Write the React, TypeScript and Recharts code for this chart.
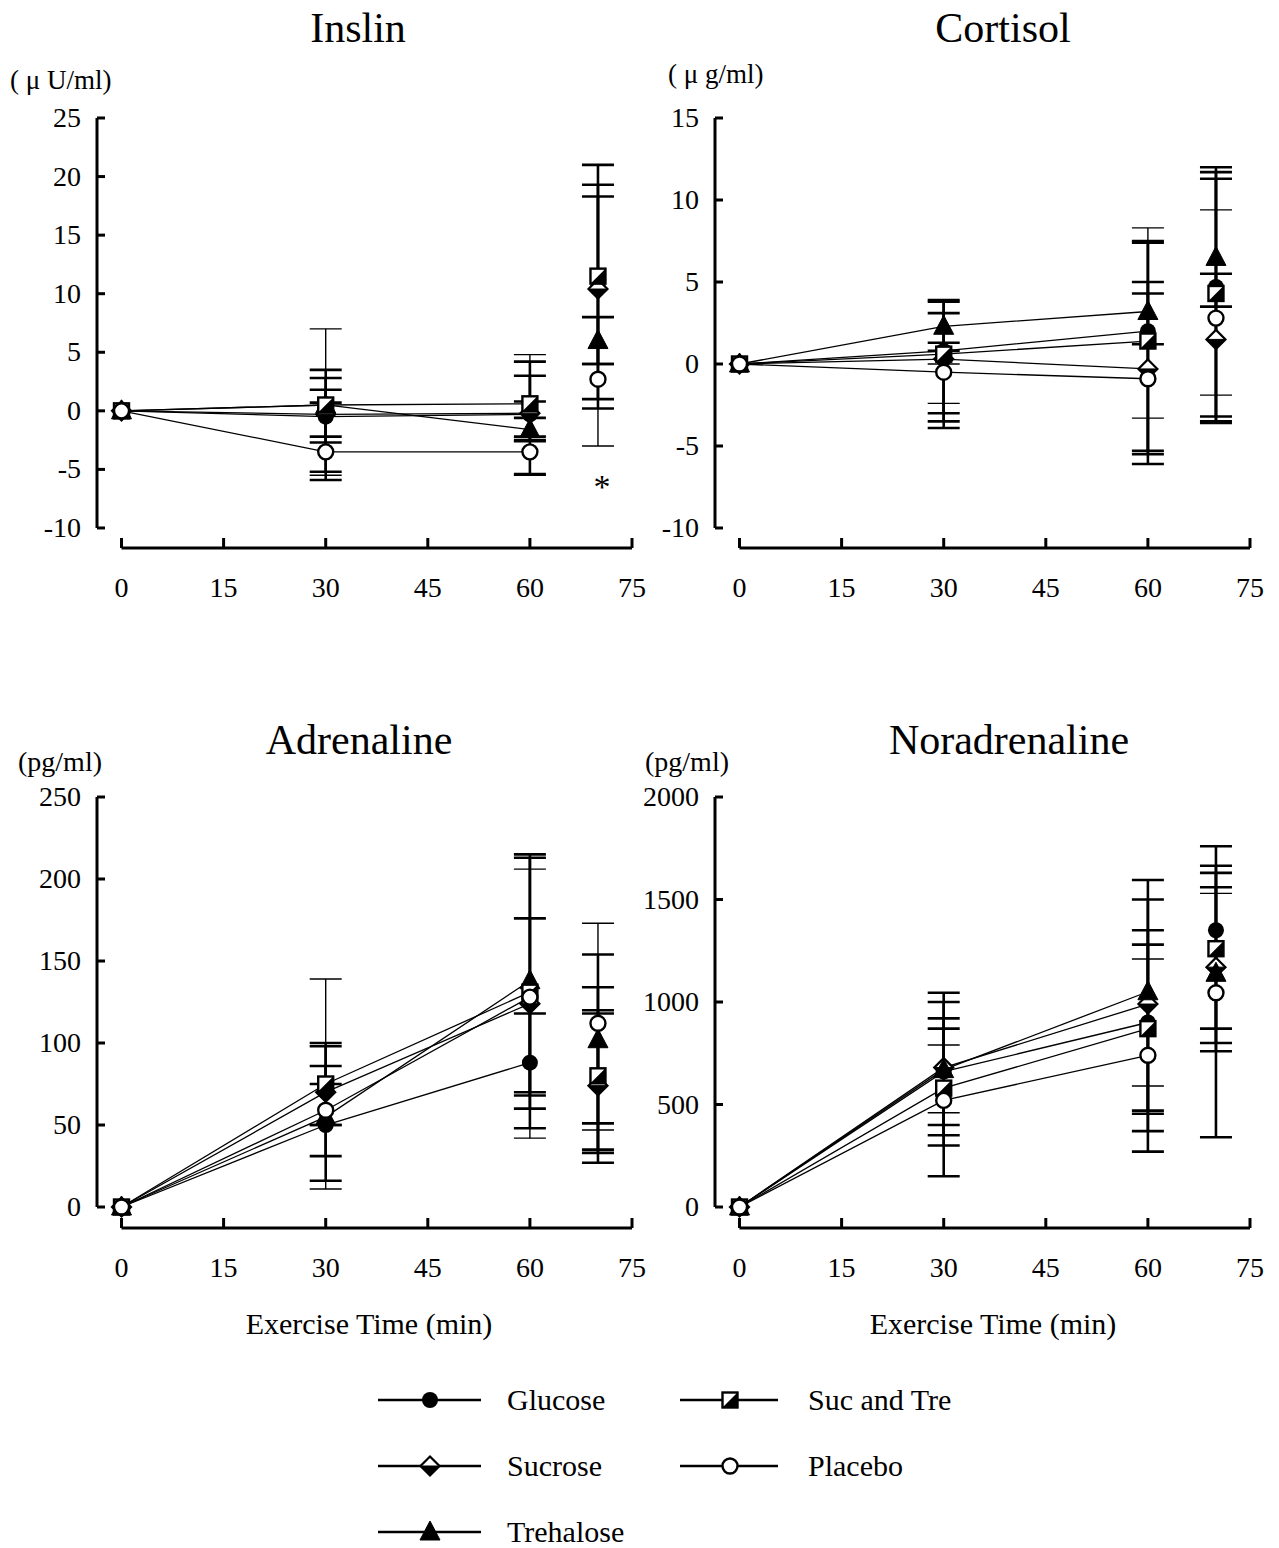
import React from 'react';
import { ComposedChart, Scatter, XAxis, YAxis, ErrorBar, ReferenceLine, ReferenceDot } from 'recharts';

const FONT = "'Liberation Serif', 'Times New Roman', serif";

const times = [0, 30, 60, 70];
const seriesNames = ['Glucose', 'Sucrose', 'Trehalose', 'Suc and Tre', 'Placebo'];
const xTicks = [0, 15, 30, 45, 60, 75];

// ---------- Insulin ----------
const insulinTicks = [-10, -5, 0, 5, 10, 15, 20, 25];
const insulinMean: Record<string, number[]> = {
  Glucose: [0, -0.5, -0.3, 10.5],
  Sucrose: [0, -0.3, -0.2, 10.4],
  Trehalose: [0, 0.5, -1.6, 6.0],
  'Suc and Tre': [0, 0.5, 0.6, 11.5],
  Placebo: [0, -3.5, -3.5, 2.7],
};
// [minus, plus]
const insulinErr: Record<string, number[][]> = {
  Glucose: [[0, 0], [4.7, 2.3], [5.1, 3.3], [10.3, 8.8]],
  Sucrose: [[0, 0], [5.6, 1.0], [2.0, 1.0], [6.4, 7.9]],
  Trehalose: [[0, 0], [3.2, 2.3], [1.0, 1.0], [2.0, 2.0]],
  'Suc and Tre': [[0, 0], [2.7, 3.0], [3.1, 3.6], [10.5, 9.5]],
  Placebo: [[0, 0], [2.0, 10.5], [2.0, 8.3], [5.7, 5.3]],
};

// ---------- Cortisol ----------
const cortisolTicks = [-10, -5, 0, 5, 10, 15];
const cortisolMean: Record<string, number[]> = {
  Glucose: [0, 0.8, 2.0, 4.7],
  Sucrose: [0, 0.3, -0.3, 1.5],
  Trehalose: [0, 2.3, 3.2, 6.5],
  'Suc and Tre': [0, 0.6, 1.4, 4.3],
  Placebo: [0, -0.5, -0.9, 2.8],
};
const cortisolErr: Record<string, number[][]> = {
  Glucose: [[0, 0], [4.3, 3.0], [7.3, 5.5], [8.3, 7.0]],
  Sucrose: [[0, 0], [4.2, 0.5], [5.8, 4.6], [4.7, 4.0]],
  Trehalose: [[0, 0], [1.0, 1.6], [2.0, 4.2], [3.0, 5.5]],
  'Suc and Tre': [[0, 0], [3.6, 2.5], [6.9, 3.6], [7.8, 7.0]],
  Placebo: [[0, 0], [1.9, 0.5], [2.4, 9.2], [4.7, 6.6]],
};

// ---------- Adrenaline ----------
const adrenalineTicks = [0, 50, 100, 150, 200, 250];
const adrenalineMean: Record<string, number[]> = {
  Glucose: [0, 50, 88, 77],
  Sucrose: [0, 70, 124, 74],
  Trehalose: [0, 55, 138, 102],
  'Suc and Tre': [0, 75, 131, 80],
  Placebo: [0, 59, 128, 112],
};
const adrenalineErr: Record<string, number[][]> = {
  Glucose: [[0, 0], [19, 36], [20, 30], [44, 41]],
  Sucrose: [[0, 0], [20, 28], [76, 52], [23, 46]],
  Trehalose: [[0, 0], [39, 20], [68, 77], [75, 52]],
  'Suc and Tre': [[0, 0], [25, 25], [71, 82], [45, 54]],
  Placebo: [[0, 0], [48, 80], [86, 78], [65, 61]],
};

// ---------- Noradrenaline ----------
const noradTicks = [0, 500, 1000, 1500, 2000];
const noradMean: Record<string, number[]> = {
  Glucose: [0, 660, 900, 1350],
  Sucrose: [0, 680, 990, 1170],
  Trehalose: [0, 670, 1050, 1140],
  'Suc and Tre': [0, 580, 870, 1260],
  Placebo: [0, 520, 740, 1045],
};
const noradErr: Record<string, number[][]> = {
  Glucose: [[0, 0], [260, 260], [430, 600], [1010, 410]],
  Sucrose: [[0, 0], [380, 320], [620, 360], [410, 460]],
  Trehalose: [[0, 0], [520, 375], [780, 545], [270, 420]],
  'Suc and Tre': [[0, 0], [230, 290], [415, 410], [460, 405]],
  Placebo: [[0, 0], [60, 270], [150, 470], [245, 485]],
};

const X_MIN = -3.6;
const AXIS_X = 97;

// ---------- marker shapes ----------
const GlucoseMark = ({ cx, cy }: any) => <circle cx={cx} cy={cy} r={8} fill="#000" />;
const PlaceboMark = ({ cx, cy }: any) => (
  <circle cx={cx} cy={cy} r={7.5} fill="#fff" stroke="#000" strokeWidth={2.4} />
);
const TrehaloseMark = ({ cx, cy }: any) => (
  <path d={`M${cx},${cy - 11} L${cx + 10},${cy + 8} L${cx - 10},${cy + 8} Z`} fill="#000" stroke="#000" strokeWidth={1} />
);
const SucroseMark = ({ cx, cy }: any) => {
  const s = 9.5;
  return (
    <g>
      <path d={`M${cx},${cy - s} L${cx + s},${cy} L${cx},${cy + s} L${cx - s},${cy} Z`} fill="#fff" stroke="#000" strokeWidth={2.2} />
      <path d={`M${cx - s},${cy} L${cx + s},${cy} L${cx},${cy + s} Z`} fill="#000" stroke="#000" strokeWidth={1} />
    </g>
  );
};
const SucTreMark = ({ cx, cy }: any) => {
  const s = 7.5;
  return (
    <g>
      <rect x={cx - s} y={cy - s} width={2 * s} height={2 * s} fill="#fff" stroke="#000" strokeWidth={2.4} />
      <path d={`M${cx + s},${cy - s} L${cx + s},${cy + s} L${cx - s},${cy + s} Z`} fill="#000" />
    </g>
  );
};
const shapes: Record<string, any> = {
  Glucose: GlucoseMark,
  Sucrose: SucroseMark,
  Trehalose: TrehaloseMark,
  'Suc and Tre': SucTreMark,
  Placebo: PlaceboMark,
};
const Empty = () => <g />;

const XTick = (props: any) => {
  const { x, payload, axisY } = props;
  return (
    <g>
      <line x1={x} x2={x} y1={axisY} y2={axisY - 10} stroke="#000" strokeWidth={3} />
      <text x={x} y={axisY + 49} textAnchor="middle" fontFamily={FONT} fontSize={28} fill="#000">
        {payload.value}
      </text>
    </g>
  );
};
const YTick = (props: any) => {
  const { y, payload } = props;
  return (
    <g>
      <line x1={AXIS_X} x2={AXIS_X + 8} y1={y} y2={y} stroke="#000" strokeWidth={3} />
      <text x={AXIS_X - 16} y={y + 9} textAnchor="end" fontFamily={FONT} fontSize={28} fill="#000">
        {payload.value}
      </text>
    </g>
  );
};

type PanelProps = {
  left: number;
  top: number;
  width: number;
  height: number;
  mTop: number;
  yMin: number;
  yTicks: number[];
  means: Record<string, number[]>;
  errs: Record<string, number[][]>;
  extra?: React.ReactNode;
};

function Panel(p: PanelProps) {
  const plotBottom = p.height - 22 - 50;
  const yLow = p.yTicks[0];
  const yHigh = p.yTicks[p.yTicks.length - 1];
  const lineData = (n: string) => times.slice(0, 3).map((t, i) => ({ t, v: p.means[n][i] }));
  const allData = (n: string) => times.map((t, i) => ({ t, v: p.means[n][i], e: p.errs[n][i] }));
  const errData = (n: string) => allData(n).filter((d) => d.t > 0);
  return (
    <div style={{ position: 'absolute', left: p.left, top: p.top }}>
      <ComposedChart
        width={p.width}
        height={p.height}
        margin={{ top: p.mTop, right: p.width - 632, bottom: 22, left: 0 }}
      >
        <XAxis
          type="number"
          dataKey="t"
          domain={[X_MIN, 75]}
          ticks={xTicks}
          allowDataOverflow
          axisLine={false}
          tickLine={false}
          height={50}
          interval={0}
          tick={<XTick axisY={plotBottom} />}
        />
        <YAxis
          type="number"
          dataKey="v"
          domain={[p.yMin, yHigh]}
          ticks={p.yTicks}
          allowDataOverflow
          axisLine={false}
          tickLine={false}
          width={97}
          interval={0}
          tick={<YTick />}
        />
        <ReferenceLine
          segment={[{ x: X_MIN, y: yLow }, { x: X_MIN, y: yHigh }]}
          stroke="#000"
          strokeWidth={3}
          ifOverflow="visible"
        />
        <ReferenceLine
          segment={[{ x: 0, y: p.yMin }, { x: 75, y: p.yMin }]}
          stroke="#000"
          strokeWidth={3}
          ifOverflow="visible"
        />
        {seriesNames.map((n) => (
          <Scatter
            key={'l' + n}
            data={lineData(n)}
            line={{ stroke: '#000', strokeWidth: 1.3 }}
            shape={Empty}
            fill="#000"
            isAnimationActive={false}
          />
        ))}
        {seriesNames.map((n) => (
          <Scatter key={'e' + n} data={errData(n)} shape={Empty} fill="#000" isAnimationActive={false}>
            <ErrorBar
              dataKey="e"
              direction="y"
              width={16}
              strokeWidth={n === 'Placebo' ? 1.4 : 2.6}
              stroke="#000"
              isAnimationActive={false}
            />
          </Scatter>
        ))}
        {seriesNames.map((n) => (
          <Scatter key={'m' + n} data={allData(n)} shape={shapes[n]} fill="#000" isAnimationActive={false} />
        ))}
        {p.extra}
      </ComposedChart>
    </div>
  );
}

const Star = ({ cx, cy }: any) => (
  <text x={cx + 4} y={cy + 17} textAnchor="middle" fontFamily={FONT} fontSize={34} fill="#000">
    *
  </text>
);

const legendItems = [
  { name: 'Glucose', col: 0, row: 0 },
  { name: 'Suc and Tre', col: 1, row: 0 },
  { name: 'Sucrose', col: 0, row: 1 },
  { name: 'Placebo', col: 1, row: 1 },
  { name: 'Trehalose', col: 0, row: 2 },
];

function Overlay() {
  const txt = { fontFamily: FONT, fill: '#000' } as any;
  const colX = [[378, 481, 430, 507], [680, 778, 730, 808]];
  const rowY = [1400, 1466, 1532];
  return (
    <svg width={1279} height={1548} style={{ position: 'absolute', left: 0, top: 0, pointerEvents: 'none' }}>
      <text x={358} y={42} textAnchor="middle" fontSize={42} {...txt}>Inslin</text>
      <text x={1003} y={42} textAnchor="middle" fontSize={42} {...txt}>Cortisol</text>
      <text x={359} y={754} textAnchor="middle" fontSize={42} {...txt}>Adrenaline</text>
      <text x={1009} y={754} textAnchor="middle" fontSize={42} {...txt}>Noradrenaline</text>
      <text x={10} y={89} fontSize={27} {...txt}>( μ U/ml)</text>
      <text x={668} y={83} fontSize={27} {...txt}>( μ g/ml)</text>
      <text x={18} y={771} fontSize={28} {...txt}>(pg/ml)</text>
      <text x={645} y={771} fontSize={28} {...txt}>(pg/ml)</text>
      <text x={369} y={1334} textAnchor="middle" fontSize={30} {...txt}>Exercise Time (min)</text>
      <text x={993} y={1334} textAnchor="middle" fontSize={30} {...txt}>Exercise Time (min)</text>
      {legendItems.map((it) => {
        const [x1, x2, mx, tx] = colX[it.col];
        const y = rowY[it.row];
        const Mark = shapes[it.name];
        return (
          <g key={it.name}>
            <line x1={x1} x2={x2} y1={y} y2={y} stroke="#000" strokeWidth={2.5} />
            <Mark cx={mx} cy={y} />
            <text x={tx} y={y + 10} fontSize={30} {...txt}>{it.name}</text>
          </g>
        );
      })}
    </svg>
  );
}

export default function App() {
  return (
    <div style={{ position: 'absolute', left: 0, top: 0, width: 1279, height: 1548, background: '#fff' }}>
      <Panel
        left={0}
        top={0}
        width={660}
        height={620}
        mTop={118}
        yMin={-11.71}
        yTicks={insulinTicks}
        means={insulinMean}
        errs={insulinErr}
        extra={<ReferenceDot x={70} y={-6} r={0} ifOverflow="visible" shape={Star} />}
      />
      <Panel
        left={618}
        top={0}
        width={661}
        height={620}
        mTop={118}
        yMin={-11.22}
        yTicks={cortisolTicks}
        means={cortisolMean}
        errs={cortisolErr}
      />
      <Panel
        left={0}
        top={700}
        width={660}
        height={600}
        mTop={97}
        yMin={-12.8}
        yTicks={adrenalineTicks}
        means={adrenalineMean}
        errs={adrenalineErr}
      />
      <Panel
        left={618}
        top={700}
        width={661}
        height={600}
        mTop={97}
        yMin={-102.4}
        yTicks={noradTicks}
        means={noradMean}
        errs={noradErr}
      />
      <Overlay />
    </div>
  );
}
